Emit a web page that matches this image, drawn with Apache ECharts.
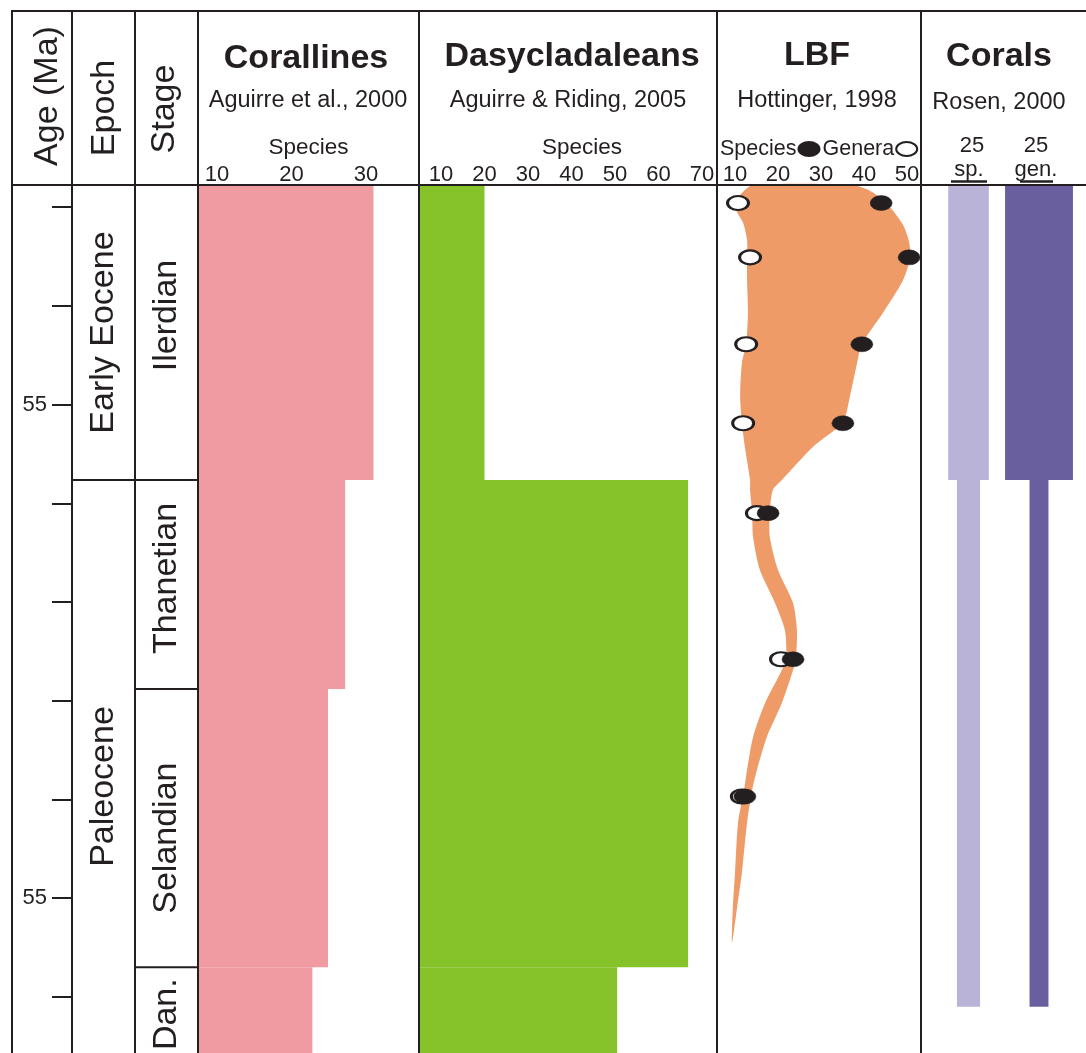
<!DOCTYPE html>
<html><head><meta charset="utf-8">
<script src="https://cdn.jsdelivr.net/npm/echarts@6/dist/echarts.min.js"></script>
<style>html,body{margin:0;padding:0;background:#fff}#c{width:1086px;height:1053px}</style>
</head><body><div id="c"></div>
<script>
// ---------------- DATA ----------------
const ageTicks = [53, 54, 55, 56, 57, 58, 59, 60, 61];
const ageLabelValues = [55, 60];
const ageLabelTexts = ['55', '55'];

const epochNames = ['Early Eocene', 'Paleocene'];
const epochBounds = [[52.7772, 55.765], [55.765, 61.5671]];
const stageNames = ['Ilerdian', 'Thanetian', 'Selandian', 'Dan.'];
const stageBounds = [[52.7772, 55.765], [55.765, 57.88], [57.88, 60.70], [60.70, 61.5671]];

const corallinesTicks = [10, 20, 30];
const corallinesSteps = [[52.7772, 55.765, 31.0], [55.765, 57.88, 27.2], [57.88, 60.70, 24.9], [60.70, 61.5671, 22.8]];

const dasyTicks = [10, 20, 30, 40, 50, 60, 70];
const dasySteps = [[52.7772, 55.765, 20.0], [55.765, 60.70, 66.8], [60.70, 61.5671, 50.5]];

const lbfTicks = [10, 20, 30, 40, 50];
const lbfSpecies = [[44.0, 52.96], [50.5, 53.51], [39.5, 54.39], [35.1, 55.19], [17.7, 56.10], [23.5, 57.58], [12.3, 58.97]];
const lbfGenera = [[10.7, 52.96], [13.5, 53.51], [12.6, 54.39], [11.9, 55.19], [15.1, 56.10], [20.7, 57.58], [11.6, 58.97]];
// envelope outline: right edge top->bottom, then left edge bottom->top  [value, age]
const lbfEnvelope = [
  [37.4, 52.7772], [41.9, 52.848], [46.0, 53.0], [49.1, 53.182], [50.5, 53.354], [50.7, 53.516], [49.1, 53.739],
  [44.4, 54.073], [39.5, 54.387], [38.4, 54.58], [36.7, 54.924], [35.1, 55.177], [28.1, 55.43], [20.9, 55.765],
  [18.8, 55.866], [18.1, 56.099], [18.1, 56.342], [20.0, 56.676], [23.5, 57.01], [24.4, 57.284], [24.2, 57.557],
  [23.5, 57.689], [20.9, 58.023], [17.4, 58.367], [15.1, 58.701], [14.0, 58.904], [12.8, 59.238], [11.6, 59.744],
  [10.5, 60.089], [9.3, 60.453],
  [9.5, 60.089], [10.0, 59.744], [10.7, 59.238], [12.1, 58.904], [12.8, 58.701], [14.2, 58.367], [17.0, 58.023],
  [20.9, 57.689], [21.9, 57.557], [21.6, 57.284], [19.3, 57.01], [15.8, 56.676], [14.2, 56.342], [14.0, 56.099],
  [13.5, 55.866], [13.5, 55.765], [12.3, 55.43], [11.6, 55.177], [11.2, 54.924], [11.6, 54.58], [12.6, 54.387],
  [13.0, 54.073], [12.8, 53.739], [12.8, 53.516], [12.8, 53.334], [11.9, 53.162], [10.0, 53.0], [11.2, 52.878],
  [14.2, 52.7772]
];

const coralScale = 25;
const coralSp = [[52.7772, 55.765, 29.0], [55.765, 61.10, 16.5]];
const coralGen = [[52.7772, 55.765, 48.5], [55.765, 61.10, 13.5]];

// ---------------- CHART ----------------
const INK = '#231f20';
const FONT = '"Liberation Sans", Arial, sans-serif';
const AGE_MIN = 52.7772, AGE_MAX = 61.5671;
// label nudges (pixels) for the rotated unit names
const labelNudge = {'Ilerdian': -17, 'Thanetian': -6, 'Selandian': 10, 'Dan.': 4, 'Paleocene': 20, 'Early Eocene': 0};
const chart = echarts.init(document.getElementById('c'), null, {renderer: 'canvas'});

const TOP = 185, H = 868;
const grids = [
  {left: 72, top: TOP, width: 63, height: H},     // 0 epoch (+ age axis)
  {left: 135, top: TOP, width: 63, height: H},    // 1 stage
  {left: 198, top: TOP, width: 221, height: H},   // 2 corallines
  {left: 419, top: TOP, width: 298, height: H},   // 3 dasy
  {left: 717, top: TOP, width: 204, height: H},   // 4 LBF
  {left: 933.5, top: TOP, width: 70, height: H},  // 5 corals sp
  {left: 1004, top: TOP, width: 70, height: H}    // 6 corals gen
];

function hiddenY(i) { return {gridIndex: i, type: 'value', inverse: true, min: AGE_MIN, max: AGE_MAX, show: false}; }
function topX(i, min, max, ticks, name, nameGap, namePad) {
  return {
    gridIndex: i, type: 'value', position: 'top', min: min, max: max,
    axisLine: {show: false}, axisTick: {show: false}, splitLine: {show: false},
    axisLabel: {customValues: ticks, fontSize: 22, fontFamily: FONT, color: INK, margin: -1},
    name: name, nameLocation: 'middle', nameGap: nameGap,
    nameTextStyle: {fontSize: 22.5, fontFamily: FONT, color: INK, padding: namePad || 0}
  };
}

const yAxes = [
  {
    gridIndex: 0, type: 'value', inverse: true, min: AGE_MIN, max: AGE_MAX, position: 'left',
    axisLine: {show: true, lineStyle: {color: INK, width: 2}},
    axisTick: {show: true, customValues: ageTicks, length: 20, lineStyle: {color: INK, width: 2}},
    axisLabel: {customValues: ageLabelValues, margin: 25, fontSize: 22, fontFamily: FONT, color: INK,
      formatter: v => ageLabelTexts[ageLabelValues.indexOf(v)] || ''},
    splitLine: {show: false}
  },
  hiddenY(1), hiddenY(2), hiddenY(3), hiddenY(4), hiddenY(5), hiddenY(6)
];
const xAxes = [
  {gridIndex: 0, type: 'value', min: 0, max: 1, show: false},
  {gridIndex: 1, type: 'value', min: 0, max: 1, show: false},
  topX(2, 7.45, 37.11, corallinesTicks, 'Species', 25),
  topX(3, 4.94, 73.45, dasyTicks, 'Species', 25, [0, 0, 0, 28]),
  topX(4, 5.814, 53.26, lbfTicks, '', 30),
  {gridIndex: 5, type: 'value', min: -coralScale, max: coralScale, show: false},
  {gridIndex: 6, type: 'value', min: -coralScale, max: coralScale, show: false}
];

function unitBoxes(names, bounds, idx) {
  return {
    type: 'custom', xAxisIndex: idx, yAxisIndex: idx, silent: true, clip: false,
    data: bounds,
    encode: {y: [0, 1]},
    renderItem: function (params, api) {
      const cs = params.coordSys;
      const y0 = api.coord([0, api.value(0)])[1];
      const y1 = api.coord([0, api.value(1)])[1];
      const name = names[params.dataIndex];
      return {
        type: 'group',
        children: [
          {type: 'line', shape: {x1: cs.x, y1: y0, x2: cs.x + cs.width, y2: y0},
            style: {stroke: INK, lineWidth: 2}},
          {type: 'text', x: cs.x + cs.width / 2, y: (y0 + y1) / 2 + (labelNudge[name] || 0), rotation: Math.PI / 2,
            style: {text: name, fontSize: 34, fontFamily: FONT, fill: INK,
              align: 'center', verticalAlign: 'middle'}}
        ]
      };
    }
  };
}

function stepBars(data, idx, color) {
  return {
    type: 'custom', xAxisIndex: idx, yAxisIndex: idx, silent: true,
    data: data, encode: {x: 2, y: [0, 1]},
    renderItem: function (params, api) {
      const cs = params.coordSys;
      const p0 = api.coord([api.value(2), api.value(0)]);
      const p1 = api.coord([api.value(2), api.value(1)]);
      return {type: 'rect', shape: {x: cs.x + 1, y: p0[1], width: p0[0] - cs.x - 1, height: p1[1] - p0[1]},
        style: {fill: color}};
    }
  };
}

function coralBars(data, idx, color) {
  return {
    type: 'custom', xAxisIndex: idx, yAxisIndex: idx, silent: true,
    data: data, encode: {x: 2, y: [0, 1]},
    renderItem: function (params, api) {
      const v = api.value(2);
      const a = api.coord([-v / 2, api.value(0)]);
      const b = api.coord([v / 2, api.value(1)]);
      return {type: 'rect', shape: {x: a[0], y: a[1], width: b[0] - a[0], height: b[1] - a[1]},
        style: {fill: color}};
    }
  };
}

const ELLIPSE = 'path://M0,1A1,1,0,1,1,2,1A1,1,0,1,1,0,1Z';

const series = [
  unitBoxes(epochNames, epochBounds, 0),
  unitBoxes(stageNames, stageBounds, 1),
  stepBars(corallinesSteps, 2, '#f09aa2'),
  stepBars(dasySteps, 3, '#86c229'),
  {
    type: 'custom', xAxisIndex: 4, yAxisIndex: 4, silent: true,
    data: lbfEnvelope, encode: {x: 0, y: 1},
    renderItem: function (params, api) {
      if (params.dataIndex !== 0) return null;
      const pts = lbfEnvelope.map(p => api.coord(p));
      return {type: 'polygon', shape: {points: pts, smooth: 0.25}, style: {fill: '#ef9b68'}};
    }
  },
  {
    name: 'Genera', type: 'scatter', xAxisIndex: 4, yAxisIndex: 4, data: lbfGenera,
    symbol: ELLIPSE, symbolSize: [21, 14], symbolKeepAspect: false, silent: true,
    itemStyle: {color: '#ffffff', borderColor: INK, borderWidth: 2.5, opacity: 1}
  },
  {
    name: 'Species', type: 'scatter', xAxisIndex: 4, yAxisIndex: 4, data: lbfSpecies,
    symbol: ELLIPSE, symbolSize: [22, 15], symbolKeepAspect: false, silent: true,
    itemStyle: {color: INK, borderColor: INK, borderWidth: 0.5, opacity: 1}
  },
  coralBars(coralSp, 5, '#b9b4d7'),
  coralBars(coralGen, 6, '#6a5f9e')
];

function hLine(x1, x2, y, w) { return {type: 'line', shape: {x1: x1, y1: y, x2: x2, y2: y}, style: {stroke: INK, lineWidth: w || 2}, z: 100}; }
function vLine(x, y1, y2) { return {type: 'line', shape: {x1: x, y1: y1, x2: x, y2: y2}, style: {stroke: INK, lineWidth: 2}, z: 100}; }
function txt(s, x, y, size, bold, rot) {
  return {type: 'text', x: x, y: y, rotation: rot || 0, z: 100,
    style: {text: s, fontSize: size, fontWeight: bold ? 'bold' : 'normal', fontFamily: FONT, fill: INK,
      textAlign: 'center', textVerticalAlign: 'middle'}};
}

const graphic = [
  hLine(11, 1086, 11), hLine(11, 1086, 185),
  vLine(12, 10, 1053), vLine(72, 10, 1053), vLine(135, 10, 1053), vLine(198, 10, 1053),
  vLine(419, 10, 1053), vLine(717, 10, 1053), vLine(921, 10, 1053),
  txt('Age (Ma)', 48, 96, 34, false, Math.PI / 2),
  txt('Epoch', 105, 108, 34, false, Math.PI / 2),
  txt('Stage', 165, 109, 34, false, Math.PI / 2),
  txt('Corallines', 306, 59, 34, true),
  txt('Aguirre et al., 2000', 308, 101, 23.5),
  txt('Dasycladaleans', 572, 57, 34, true),
  txt('Aguirre & Riding, 2005', 568, 101, 23.5),
  txt('LBF', 817, 56, 34, true),
  txt('Hottinger, 1998', 817, 101, 23.5),
  txt('Corals', 999, 57, 34, true),
  txt('Rosen, 2000', 999, 103, 23.5),
  txt('25', 972, 146, 22),
  txt('sp.', 969, 170, 22),
  txt('25', 1036, 146, 22),
  txt('gen.', 1036, 170, 22),
  hLine(951, 987, 181.5, 2.5), hLine(1020, 1053, 181.5, 2.5)
];

chart.setOption({
  animation: false,
  backgroundColor: '#ffffff',
  grid: grids,
  xAxis: xAxes,
  yAxis: yAxes,
  legend: {
    left: 720, top: 138, align: 'right', itemWidth: 21, itemHeight: 14, itemGap: 2,
    symbolKeepAspect: false,
    selectedMode: false, data: ['Species', 'Genera'],
    textStyle: {fontSize: 21.5, fontFamily: FONT, color: INK, padding: [0, -3, 0, 0]}, padding: 0
  },
  series: series,
  graphic: graphic
});
</script>
</body></html>
